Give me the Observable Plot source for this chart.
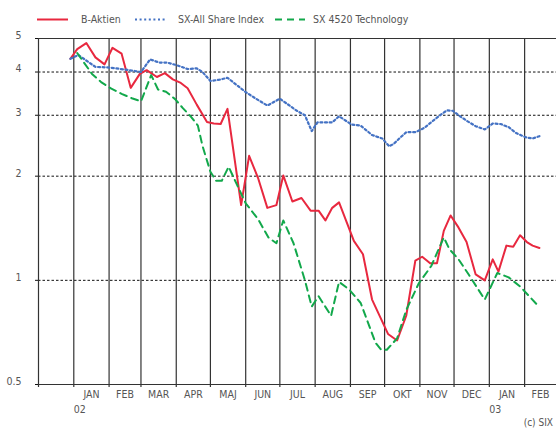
<!DOCTYPE html>
<html><head><meta charset="utf-8">
<script src="https://cdn.jsdelivr.net/npm/d3@7"></script>
<script src="https://cdn.jsdelivr.net/npm/@observablehq/plot@0.6"></script>
<style>
body{margin:0;background:#fff;font-family:"Liberation Sans Narrow","DejaVu Sans Condensed",sans-serif;}
#wrap{position:relative;width:556px;height:431px;overflow:hidden;background:#fff;}
#legend{position:absolute;left:0;top:0;width:556px;height:30px;}
#chart{position:absolute;left:0;top:30px;}
#caption{position:absolute;right:3px;top:417px;font-size:10px;color:#555;}
</style></head><body>
<div id="wrap">
<div id="legend"></div>
<div id="chart"></div>
<div id="caption">(c) SIX</div>
</div>
<script>
// ---- data ----
const seriesNames = ["B-Aktien", "SX-All Share Index", "SX 4520 Technology"];

const bAktienDates = ["2001-12-29","2002-01-04","2002-01-12","2002-01-20","2002-01-28","2002-02-04","2002-02-12","2002-02-20","2002-02-28","2002-03-06","2002-03-15","2002-03-22","2002-03-29","2002-04-05","2002-04-11","2002-04-19","2002-04-28","2002-05-04","2002-05-10","2002-05-16","2002-05-28","2002-06-04","2002-06-12","2002-06-20","2002-06-28","2002-07-04","2002-07-12","2002-07-20","2002-07-28","2002-08-04","2002-08-10","2002-08-16","2002-08-22","2002-09-04","2002-09-12","2002-09-20","2002-10-04","2002-10-12","2002-10-20","2002-10-28","2002-11-03","2002-11-10","2002-11-16","2002-11-22","2002-11-28","2002-12-05","2002-12-12","2002-12-20","2002-12-28","2003-01-04","2003-01-09","2003-01-16","2003-01-22","2003-01-28","2003-02-03","2003-02-08","2003-02-14"];
const bAktienValues = [4.37,4.66,4.85,4.41,4.21,4.70,4.52,3.60,3.95,4.05,3.87,3.97,3.81,3.72,3.59,3.22,2.87,2.84,2.83,3.13,1.65,2.29,1.97,1.62,1.65,2.01,1.69,1.73,1.59,1.59,1.49,1.62,1.68,1.30,1.19,0.88,0.70,0.67,0.79,1.14,1.17,1.12,1.12,1.39,1.54,1.42,1.29,1.04,1.00,1.15,1.06,1.26,1.25,1.35,1.29,1.26,1.24];

const allShareDates = ["2001-12-29","2002-01-05","2002-01-20","2002-02-02","2002-02-21","2002-03-01","2002-03-09","2002-03-17","2002-03-24","2002-04-02","2002-04-11","2002-04-19","2002-04-24","2002-05-01","2002-05-09","2002-05-16","2002-06-01","2002-06-10","2002-06-20","2002-07-01","2002-07-16","2002-07-23","2002-07-29","2002-08-03","2002-08-16","2002-08-22","2002-09-02","2002-09-10","2002-09-20","2002-09-29","2002-10-05","2002-10-09","2002-10-15","2002-10-20","2002-10-28","2002-11-05","2002-11-13","2002-11-21","2002-11-25","2002-11-30","2002-12-05","2002-12-13","2002-12-20","2002-12-28","2003-01-04","2003-01-11","2003-01-18","2003-01-25","2003-02-02","2003-02-08","2003-02-14"];
const allShareValues = [4.37,4.48,4.14,4.12,4.04,4.00,4.35,4.26,4.26,4.18,4.08,4.10,4.00,3.77,3.80,3.85,3.50,3.35,3.20,3.35,3.09,3.00,2.70,2.86,2.86,2.98,2.82,2.80,2.63,2.57,2.44,2.48,2.59,2.68,2.68,2.76,2.90,3.04,3.10,3.09,3.00,2.88,2.79,2.73,2.84,2.83,2.77,2.66,2.59,2.57,2.61];

const techDates = ["2002-01-04","2002-01-17","2002-01-25","2002-02-03","2002-02-12","2002-02-21","2002-03-01","2002-03-10","2002-03-16","2002-03-23","2002-03-31","2002-04-07","2002-04-14","2002-04-20","2002-04-24","2002-05-01","2002-05-06","2002-05-11","2002-05-17","2002-05-24","2002-06-01","2002-06-12","2002-06-21","2002-06-28","2002-07-04","2002-07-13","2002-07-23","2002-07-29","2002-08-04","2002-08-15","2002-08-22","2002-08-31","2002-09-10","2002-09-23","2002-09-28","2002-10-03","2002-10-12","2002-10-20","2002-10-31","2002-11-11","2002-11-22","2002-11-27","2002-12-05","2002-12-13","2002-12-28","2003-01-08","2003-01-18","2003-01-28","2003-02-05","2003-02-12"];
const techValues = [4.54,3.95,3.74,3.58,3.46,3.36,3.29,3.92,3.56,3.51,3.34,3.14,2.97,2.80,2.45,2.06,1.94,1.94,2.13,1.90,1.67,1.50,1.33,1.28,1.49,1.28,1.00,0.84,0.90,0.79,0.99,0.94,0.86,0.66,0.63,0.63,0.68,0.82,0.98,1.10,1.33,1.23,1.15,1.05,0.88,1.05,1.02,0.96,0.90,0.85];

const monthLabels = ["JAN","FEB","MAR","APR","MAJ","JUN","JUL","AUG","SEP","OKT","NOV","DEC","JAN","FEB"];
const monthLabelStarts = ["2002-01-01","2002-02-01","2002-03-01","2002-04-01","2002-05-01","2002-06-01","2002-07-01","2002-08-01","2002-09-01","2002-10-01","2002-11-01","2002-12-01","2003-01-01","2003-02-01"];
const yearLabels = ["02","03"];
const yearLabelDates = ["2002-01-01","2003-01-01"];
const yTicks = [0.5, 1, 2, 3, 4, 5];
const yTickLabels = ["0.5", "1", "2", "3", "4", "5"];
const gridValues = [1, 2, 3, 4];

// ---- styles ----
const colors = ["#e8283f", "#4472c4", "#12a84b"];
const dashes = [null, "2,2.6", "7,5"];
const FONT = '"Liberation Sans Narrow","DejaVu Sans Condensed",sans-serif';

const parse = d3.utcParse("%Y-%m-%d");
const rows = (dates, values, name) => dates.map((d, i) => ({date: parse(d), value: values[i], series: name}));
const series = [
  rows(bAktienDates, bAktienValues, seriesNames[0]),
  rows(allShareDates, allShareValues, seriesNames[1]),
  rows(techDates, techValues, seriesNames[2])
];

const xStart = parse("2001-12-01"), xEnd = parse("2003-03-01");
const monthBounds = d3.utcMonth.range(xStart, xEnd);
const monthMid = monthLabelStarts.map((s, i) => {
  const a = parse(s), b = d3.utcMonth.offset(a, 1);
  return {date: new Date((+a + +b) / 2), label: monthLabels[i]};
});
const years = yearLabelDates.map((d, i) => ({date: parse(d), label: yearLabels[i]}));
const yLab = yTicks.map((v, i) => ({value: v, label: yTickLabels[i]}));

const chart = Plot.plot({
  width: 556, height: 388,
  marginLeft: 38, marginRight: 0, marginTop: 8, marginBottom: 34,
  style: {fontFamily: FONT, fontSize: "10.5px", color: "#555", background: "white", overflow: "visible"},
  x: {type: "utc", domain: [xStart, xEnd], axis: null},
  y: {type: "log", domain: [0.5, 5], axis: null},
  marks: [
    Plot.ruleY(gridValues, {stroke: "#111", strokeWidth: 1, strokeDasharray: "2.5,2"}),
    Plot.ruleX(monthBounds, {stroke: "#333", strokeWidth: 1.2}),
    Plot.axisX({ticks: monthBounds, tickSize: 3, tickFormat: () => "", label: null, stroke: "#333", strokeWidth: 1.2}),
    Plot.axisY({ticks: yTicks, tickSize: 3, tickFormat: () => "", label: null, stroke: "#111"}),
    Plot.ruleY([0.5, 5], {stroke: "#333", strokeWidth: 1.2}),
    Plot.line(series[0], {x: "date", y: "value", stroke: colors[0], strokeWidth: 2}),
    Plot.line(series[1], {x: "date", y: "value", stroke: colors[1], strokeWidth: 2.2, strokeDasharray: dashes[1]}),
    Plot.line(series[2], {x: "date", y: "value", stroke: colors[2], strokeWidth: 2, strokeDasharray: dashes[2]}),
    Plot.text(yLab, {y: "value", text: "label", frameAnchor: "left", dx: -17, dy: -3, textAnchor: "end", fill: "#555", fontSize: 10.5}),
    Plot.text(monthMid, {x: "date", text: "label", frameAnchor: "bottom", dy: 13, fill: "#555", fontSize: 10.5}),
    Plot.text(years, {x: "date", text: "label", frameAnchor: "bottom", dy: 28, textAnchor: "start", fill: "#555", fontSize: 10.5})
  ]
});
document.getElementById("chart").appendChild(chart);

// ---- legend ----
const legendLayout = [{x1: 37, x2: 68, tx: 81}, {x1: 135, x2: 165, tx: 178}, {x1: 275, x2: 305, tx: 313}];
const svg = d3.select("#legend").append("svg").attr("width", 556).attr("height", 30);
seriesNames.forEach((name, i) => {
  const L = legendLayout[i];
  svg.append("line").attr("x1", L.x1).attr("x2", L.x2).attr("y1", 19.5).attr("y2", 19.5)
    .attr("stroke", colors[i]).attr("stroke-width", 2).attr("stroke-dasharray", dashes[i]);
  svg.append("text").attr("x", L.tx).attr("y", 19.5).attr("dy", "0.35em")
    .attr("fill", "#555").attr("font-size", 10.5).attr("font-family", FONT).text(name);
});
</script>
</body></html>
